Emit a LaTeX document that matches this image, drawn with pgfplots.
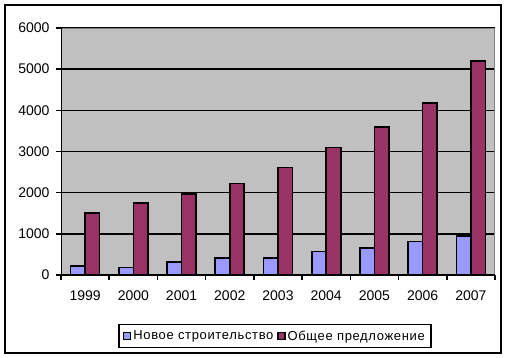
\documentclass[border=0pt]{standalone}
\usepackage{pgfplots}
\pgfplotsset{compat=1.18}
\usepackage{fontspec}
\setmainfont{Liberation Sans}
\definecolor{plotgray}{HTML}{C0C0C0}
\definecolor{newc}{HTML}{9999FF}
\definecolor{totc}{HTML}{993366}
\definecolor{bordgray}{HTML}{808080}
\begin{document}
\begin{tikzpicture}[x=1pt,y=1pt]
\useasboundingbox (0,0) rectangle (505,357);
\draw[line width=2pt] (5,4) rectangle (501,352);
\begin{axis}[
  at={(61pt,82pt)}, anchor=south west,
  scale only axis, width=434pt, height=247pt,
  xmin=-0.5, xmax=8.5, ymin=0, ymax=6000,
  axis background/.style={fill=plotgray},
  axis line style={draw=none},
  ybar=0pt, bar width=14.5pt,
  ytick={0,1000,...,6000},
  ymajorgrids, grid style={black, line width=1.5pt},
  xtick={0,...,8}, xticklabels={1999,2000,2001,2002,2003,2004,2005,2006,2007},
  xtick style={draw=none},
  extra x ticks={-0.5,0.5,...,8.5}, extra x tick labels={},
  extra x tick style={xtick style={draw=black, line width=1.5pt}, grid=none},
  ytick style={draw=black, line width=1.5pt},
  tick align=outside, tick pos=left, major tick length=5pt,
  tick label style={font=\fontsize{14}{16}\selectfont},
  xticklabel style={yshift=-7pt},
  yticklabel style={xshift=-3pt},
  /pgf/number format/assume math mode=true,
  /pgf/number format/set thousands separator={},
  legend style={at={(0.493,-0.247)}, anchor=center, draw=black, line width=1.5pt,
    font=\fontsize{13}{15}\selectfont\addfontfeature{LetterSpace=5},
    inner xsep=4pt, inner ysep=4pt,
    /tikz/every even column/.append style={column sep=2pt}},
  legend columns=2,
  legend image code/.code={\draw[#1, line width=1.2pt] (0pt,-3.5pt) rectangle (7pt,3.5pt);},
]
\addplot[fill=newc, draw=black, line width=1.6pt] coordinates {
(0,225) (1,180) (2,320) (3,420) (4,415) (5,570) (6,660) (7,810) (8,950)};
\addplot[fill=totc, draw=black, line width=1.6pt] coordinates {
(0,1500) (1,1750) (2,1970) (3,2220) (4,2610) (5,3100) (6,3600) (7,4180) (8,5200)};
\legend{Новое строительство, Общее предложение}
\draw[bordgray, line width=1.5pt] (rel axis cs:0,1) -- (rel axis cs:1,1) -- (rel axis cs:1,0);
\draw[black, line width=1.5pt] (rel axis cs:0,1) -- (rel axis cs:0,0) -- (rel axis cs:1,0);
\end{axis}
\end{tikzpicture}
\end{document}
